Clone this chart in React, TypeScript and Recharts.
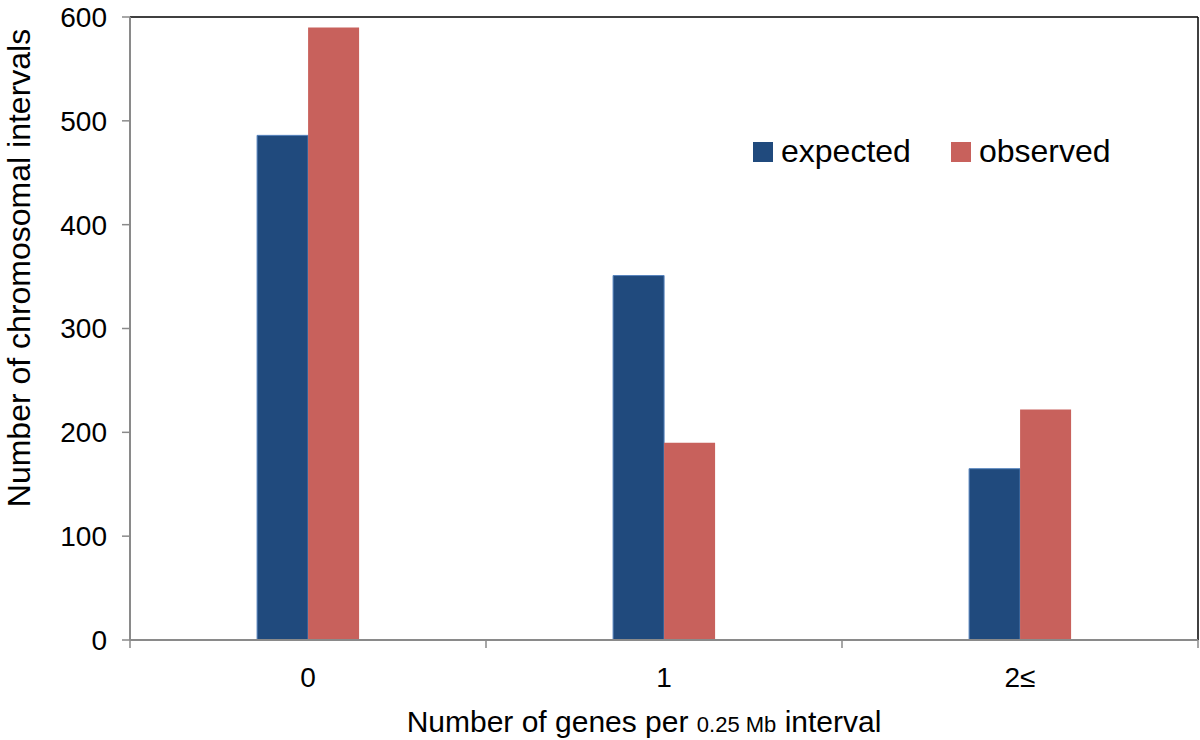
import { BarChart, Bar, XAxis, YAxis, Legend, ReferenceLine } from "recharts"

const categories = ["0", "1", "2≤"]
const expected = [486, 351, 165]
const observed = [590, 190, 222]
const yTicks = [0, 100, 200, 300, 400, 500, 600]

const data = categories.map((c, i) => ({
  genes: c,
  expected: expected[i],
  observed: observed[i],
}))

const FONT = "'Liberation Sans', Arial, Helvetica, sans-serif"
const TICK_MARGIN = 27

function renderLegend(props: any) {
  const items = props.payload || []
  return (
    <div style={{ display: "flex", alignItems: "center", fontFamily: FONT, fontSize: 32, color: "#000" }}>
      {items.map((it: any, i: number) => (
        <div key={i} style={{ display: "flex", alignItems: "center", marginRight: i === 0 ? 40 : 0 }}>
          <span style={{ display: "inline-block", width: 20, height: 20, background: it.color, marginRight: 8 }} />
          <span>{it.value}</span>
        </div>
      ))}
    </div>
  )
}

// category label plus tick marks at the band edges
function CatTick(props: any) {
  const { x, y, payload, index, visibleTicksCount } = props
  const half = payload && payload.offset ? payload.offset : 178
  const y0 = y - TICK_MARGIN
  const last = index === (visibleTicksCount || 3) - 1
  return (
    <g>
      <line x1={x - half} y1={y0} x2={x - half} y2={y0 + 8} stroke="#8a8a8a" strokeWidth={1.5} />
      {last && <line x1={x + half} y1={y0} x2={x + half} y2={y0 + 8} stroke="#8a8a8a" strokeWidth={1.5} />}
      <text x={x} y={y} dy="0.71em" textAnchor="middle" fill="#000" fontFamily={FONT} fontSize={28}>
        {payload.value}
      </text>
    </g>
  )
}

function XLabel(props: any) {
  const vb = props.viewBox || {}
  return (
    <text x={vb.x + vb.width / 2 - 20} y={732} textAnchor="middle" fill="#000" fontFamily={FONT} fontSize={30}>
      <tspan>Number of genes per </tspan>
      <tspan fontSize={22}>0.25 Mb</tspan>
      <tspan> interval</tspan>
    </text>
  )
}

function YLabel() {
  return (
    <text
      x={19}
      y={268}
      transform="rotate(-90 19 268)"
      textAnchor="middle"
      dominantBaseline="central"
      fill="#000"
      fontFamily={FONT}
      fontSize={32}
    >
      Number of chromosomal intervals
    </text>
  )
}

export default function App() {
  return (
    <div style={{ position: "absolute", left: 0, top: 0, background: "#fff", fontFamily: FONT }}>
      <BarChart
        width={1200}
        height={740}
        data={data}
        margin={{ top: 17, right: 2, left: 0, bottom: 0 }}
        barCategoryGap="35.7%"
        barGap={0}
      >
        <XAxis
          dataKey="genes"
          height={100}
          axisLine={{ stroke: "#8a8a8a", strokeWidth: 2 }}
          tickLine={false}
          tickSize={0}
          tickMargin={TICK_MARGIN}
          tick={<CatTick />}
          interval={0}
          label={<XLabel />}
        />
        <YAxis
          domain={[0, 600]}
          ticks={yTicks}
          width={130}
          tickSize={8}
          tickMargin={15}
          axisLine={{ stroke: "#8a8a8a", strokeWidth: 2 }}
          tickLine={{ stroke: "#8a8a8a", strokeWidth: 1.5 }}
          tick={{ fill: "#000", fontSize: 28, fontFamily: FONT }}
          label={<YLabel />}
        />
        <ReferenceLine y={600} stroke="#000" strokeWidth={1.5} />
        <ReferenceLine x="2≤" position="end" stroke="#000" strokeWidth={1.5} />
        <Legend
          content={renderLegend}
          layout="horizontal"
          verticalAlign="middle"
          align="center"
          wrapperStyle={{ position: "absolute", top: 133, left: 753, width: "auto" }}
        />
        <Bar dataKey="expected" name="expected" fill="#204A7D" stroke="#5684bd" strokeWidth={1} isAnimationActive={false} />
        <Bar dataKey="observed" name="observed" fill="#C8615C" isAnimationActive={false} />
      </BarChart>
    </div>
  )
}
